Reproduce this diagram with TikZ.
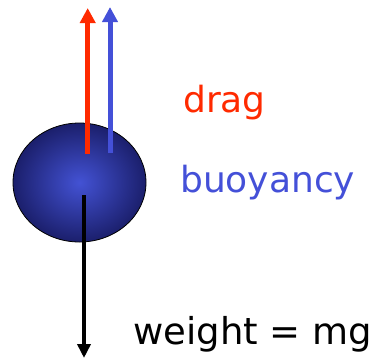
\documentclass[tikz,border=0pt]{standalone}
\usepackage{fontspec}
\setmainfont{DejaVu Sans}
\usetikzlibrary{arrows.meta,shapes.geometric}
\definecolor{dragred}{HTML}{FF2A00}
\definecolor{buoyblue}{HTML}{4450D8}
\definecolor{ballin}{HTML}{4352D4}
\definecolor{ballout}{HTML}{1B1F6C}
\tikzset{
  lbl/.style={anchor=base west, inner sep=0pt, font=\fontsize{36}{40}\selectfont},
}
\begin{document}
\begin{tikzpicture}[x=1pt,y=-1pt]
\useasboundingbox (0,0) rectangle (375,360);
\node[ellipse, draw=black, line width=0.8pt, minimum width=133pt, minimum height=119pt, inner sep=0pt,
      inner color=ballin, outer color=ballout] (ball) at (79.5,182.5) {};
\coordinate (redstart) at (87.7,154);
\coordinate (redtip) at (87.7,8);
\coordinate (bluestart) at (110,153);
\coordinate (bluetip) at (110,7);
\coordinate (wstart) at (84,195);
\coordinate (wtip) at (84,358);
\draw[draw=dragred, line width=5pt, -{Triangle[width=15pt,length=15pt]}] (redstart) -- (redtip);
\draw[draw=buoyblue, line width=5pt, -{Triangle[width=15pt,length=15pt]}] (bluestart) -- (bluetip);
\draw[draw=black, line width=4pt, -{Triangle[width=13pt,length=14pt]}] (wstart) -- (wtip);
\node[lbl, text=dragred] (drag) at (183,112) {drag};
\node[lbl, text=buoyblue] (buoy) at (180,192) {buoyancy};
\node[lbl, text=black, font=\fontsize{37}{40}\selectfont] (weight) at (133,344) {weight = mg};
\end{tikzpicture}
\end{document}
